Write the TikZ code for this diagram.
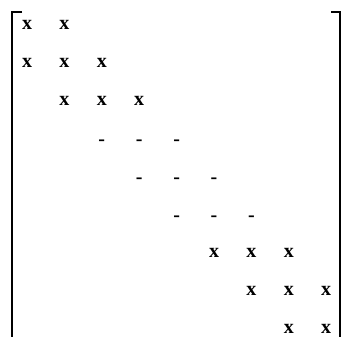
\documentclass[tikz,border=0pt]{standalone}
\usepackage{fontspec}
\usepackage{tikz}
\usetikzlibrary{positioning}
\newfontfamily\entryfont{Liberation Serif}

\begin{document}
\begin{tikzpicture}[x=1pt,y=-1pt,
  entry/.style={inner sep=0pt,font=\fontsize{20}{20}\selectfont\entryfont\bfseries},
  bracket/.style={line width=1.8pt}]
  \useasboundingbox (0,0) rectangle (343,337);

  % brackets
  \draw[bracket] (22,12) -- (12,12) -- (12,337);
  \draw[bracket] (331,12) -- (340,12) -- (340,337);

  % band entries: row/col
  \foreach \r/\c in {1/1,1/2, 2/1,2/2,2/3, 3/2,3/3,3/4,
                     7/6,7/7,7/8, 8/7,8/8,8/9, 9/8,9/9}
    \node[entry] (x\r\c) at ({27+37.4*(\c-1)},{25+38*(\r-1)}) {x};

  % omitted rows
  \foreach \r/\c in {4/3,4/4,4/5, 5/4,5/5,5/6, 6/5,6/6,6/7}
    \node[entry] (d\r\c) at ({27+37.4*(\c-1)},{29+38*(\r-1)}) {-};
\end{tikzpicture}
\end{document}
